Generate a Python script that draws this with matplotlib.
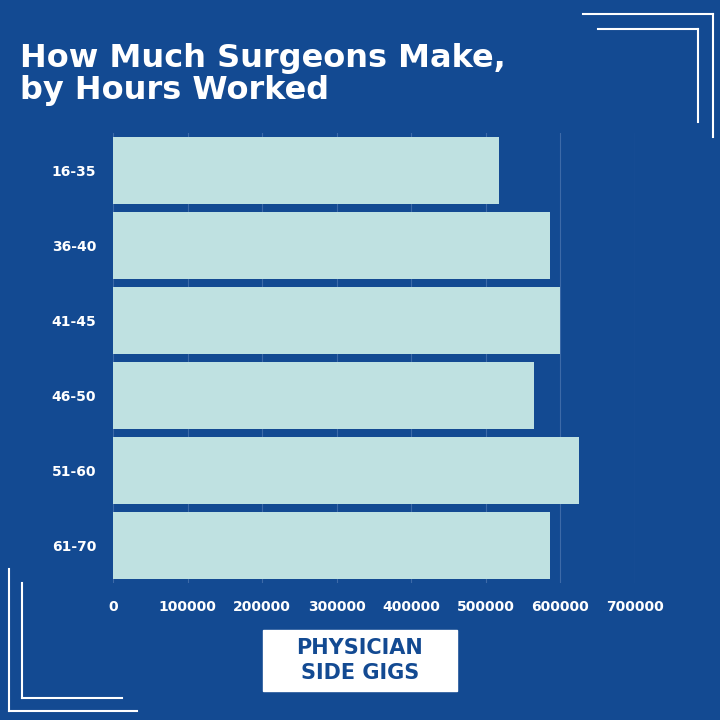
import matplotlib.pyplot as plt
from matplotlib.patches import Rectangle
from matplotlib.lines import Line2D

hours = ['16-35', '36-40', '41-45', '46-50', '51-60', '61-70']
income = [517000, 586000, 600000, 564000, 625000, 586000]
ticks = [0, 100000, 200000, 300000, 400000, 500000, 600000, 700000]

bg = '#134a92'
bar_col = '#bfe1e1'

fig = plt.figure(figsize=(7.2, 7.2), dpi=100, facecolor=bg)
ax = fig.add_axes([0.157, 0.19, 0.725, 0.625])
ax.set_facecolor(bg)

y = list(range(len(hours)))
ax.barh(y, income, height=0.9, color=bar_col, zorder=2)
ax.set_ylim(len(hours) - 0.5, -0.5)
ax.set_xlim(0, 700000)
ax.set_yticks(y)
ax.set_yticklabels(hours, color='white', fontsize=10, fontweight='bold')
ax.set_xticks(ticks)
ax.set_xticklabels([str(t) for t in ticks], color='white', fontsize=10, fontweight='bold')
ax.tick_params(length=0, pad=12)
ax.grid(axis='x', color='#3d6aa8', linewidth=0.8, zorder=0)
for s in ax.spines.values():
    s.set_visible(False)

fig.text(0.028, 0.94, 'How Much Surgeons Make,\nby Hours Worked', color='white',
         fontsize=23, fontweight='bold', va='top', linespacing=1.05)

# corner decorations
for xs, ys in [([0.81, 0.99], [0.98, 0.98]), ([0.99, 0.99], [0.98, 0.81]),
               ([0.83, 0.97], [0.96, 0.96]), ([0.97, 0.97], [0.96, 0.83]),
               ([0.012, 0.012], [0.21, 0.012]), ([0.012, 0.19], [0.012, 0.012]),
               ([0.03, 0.03], [0.19, 0.03]), ([0.03, 0.17], [0.03, 0.03])]:
    fig.add_artist(Line2D(xs, ys, color='white', linewidth=1.5, transform=fig.transFigure))

fig.add_artist(Rectangle((0.365, 0.04), 0.27, 0.085, color='white', transform=fig.transFigure))
fig.text(0.5, 0.0825, 'PHYSICIAN\nSIDE GIGS', color=bg, fontsize=15, fontweight='bold',
         ha='center', va='center', linespacing=1.3)

fig.savefig('out.png', facecolor=bg)
